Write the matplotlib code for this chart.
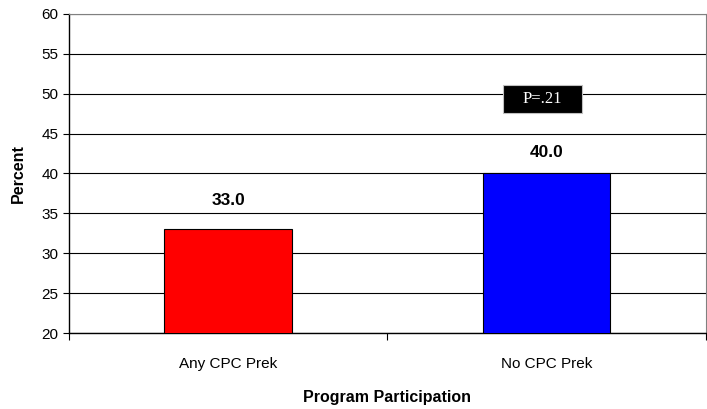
import matplotlib
matplotlib.use("Agg")
from matplotlib import pyplot as plt
from matplotlib.patches import Rectangle

categories = ["Any CPC Prek", "No CPC Prek"]
values = [33.0, 40.0]
colors = ["#ff0000", "#0000ff"]
p_note = "P=.21"

# gap (points) between bar top and its value label, as in the original
label_gap = [15, 10]

plt.rcParams["font.family"] = ["Liberation Sans", "DejaVu Sans"]

fig = plt.figure(figsize=(7.07, 4.09), dpi=100)
ax = fig.add_axes([0.0976, 0.1858, 0.9004, 0.78])

x = list(range(len(categories)))
ax.bar(x, values, width=0.4, color=colors, edgecolor="black", linewidth=0.8, zorder=3)

for xi, v, g in zip(x, values, label_gap):
    ax.annotate("%.1f" % v, (xi, v), xytext=(0, g), textcoords="offset points",
                ha="center", va="bottom", fontsize=12.5, fontweight="bold")

ax.set_xlim(-0.5, len(categories) - 0.5)
ax.set_ylim(20, 60)
ax.set_yticks(range(20, 61, 5))
ax.yaxis.grid(True, color="black", linewidth=0.8, zorder=0)
ax.set_axisbelow(True)

ax.set_xticks(x)
ax.set_xticklabels(categories, fontsize=11)
ax.tick_params(axis="x", which="major", length=0, pad=17)
ax.set_xticks([i - 0.5 for i in range(len(categories) + 1)], minor=True)
ax.tick_params(axis="x", which="minor", length=5, direction="out", width=0.8)
ax.tick_params(axis="y", labelsize=11, length=4, width=0.8, direction="out")

for side in ["top", "right"]:
    ax.spines[side].set_color("#808080")
for side in ["left", "bottom"]:
    ax.spines[side].set_color("black")
    ax.spines[side].set_linewidth(1.0)

ax.set_ylabel("Percent", fontsize=11.5, fontweight="bold", labelpad=11)
ax.set_xlabel("Program Participation", fontsize=11.5, fontweight="bold", labelpad=14)

# P-value box
ax.add_patch(Rectangle((0.863, 47.6), 0.248, 3.5, facecolor="black",
                       edgecolor="#c0c0c0", linewidth=0.8, zorder=5))
ax.text(0.987, 49.35, p_note, ha="center", va="center", fontsize=12,
        family=["Liberation Serif", "DejaVu Serif"], color="white", zorder=6)

fig.savefig("out.png", dpi=100)
